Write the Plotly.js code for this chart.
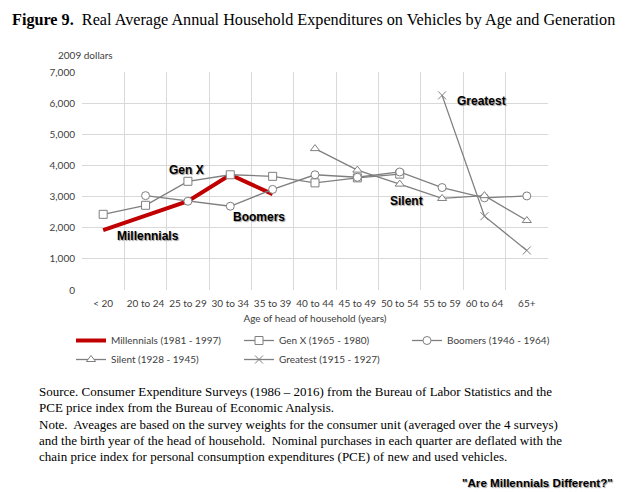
<!DOCTYPE html>
<html><head><meta charset="utf-8">
<script src="https://cdn.plot.ly/plotly-3.0.1.min.js"></script>
<style>html,body{margin:0;padding:0;background:#fff;}#chart{width:628px;height:492px;}</style>
</head><body><div id="chart"></div>
<script>
var ages = ['< 20','20 to 24','25 to 29','30 to 34','35 to 39','40 to 44','45 to 49','50 to 54','55 to 59','60 to 64','65+'];
var millennials = [1920, 2400, 2850, 3700, 3080, null, null, null, null, null, null];
var genX = [2430, 2720, 3490, 3700, 3650, 3440, 3600, 3720, null, null, null];
var boomers = [null, 3030, 2850, 2690, 3230, 3700, 3620, 3790, 3290, 2960, 3020];
var silent = [null, null, null, null, null, 4540, 3850, 3400, 2940, 3030, 2230];
var greatest = [null, null, null, null, null, null, null, null, 6250, 2370, 1270];

var grey = '#7f7f7f';
var tickFont = {family: 'Lato, "Open Sans", sans-serif', size: 10, color: '#404040'};
var lblFont = {family: '"Liberation Sans", Arial, sans-serif', size: 12, color: '#000', weight: 'bold', shadow: '1px 1px 1px #999'};

function greyTrace(name, y, sym, size) {
  return {x: ages, y: y, name: name, type: 'scatter', mode: 'lines+markers',
    line: {color: grey, width: 1.3},
    marker: {symbol: sym, size: size, color: sym.indexOf('x') === 0 ? grey : '#fff', line: {color: grey, width: 1}},
    connectgaps: false};
}

var traces = [
  {x: ages, y: millennials, name: 'Millennials (1981 - 1997)', type: 'scatter', mode: 'lines',
    line: {color: '#c00000', width: 4}},
  greyTrace('Gen X (1965 - 1980)', genX, 'square', 8),
  greyTrace('Boomers (1946 - 1964)', boomers, 'circle', 8),
  greyTrace('Silent (1928 - 1945)', silent, 'triangle-up', 8),
  greyTrace('Greatest (1915 - 1927)', greatest, 'x-thin', 8)
];

var ann = [
  {text: 'Gen X', x: 1.96, y: 3846},
  {text: 'Millennials', x: 1.06, y: 1740},
  {text: 'Boomers', x: 3.68, y: 2350},
  {text: 'Silent', x: 7.15, y: 2850},
  {text: 'Greatest', x: 8.92, y: 6070}
].map(function(a){ return {text: a.text, x: a.x, y: a.y, xref: 'x', yref: 'y', showarrow: false, font: lblFont}; });

var note = ['Source. Consumer Expenditure Surveys (1986 \u2013 2016) from the Bureau of Labor Statistics and the',
  'PCE price index from the Bureau of Economic Analysis.',
  'Note.&nbsp; Aveages are based on the survey weights for the consumer unit (averaged over the 4 surveys)',
  'and the birth year of the head of household.&nbsp; Nominal purchases in each quarter are deflated with the',
  'chain price index for personal consumption expenditures (PCE) of new and used vehicles.'];
var noteY = [391, 407.5, 424, 440.3, 456.3];

function px2x(p) { return (p - 82) / 466; }
function px2y(p) { return (290 - p) / 218; }

note.forEach(function(t, i) {
  ann.push({text: t, xref: 'paper', yref: 'paper', x: px2x(37), y: px2y(noteY[i]),
    xanchor: 'left', yanchor: 'middle', align: 'left', showarrow: false,
    font: {family: '"Liberation Serif", "Times New Roman", serif', size: 13, color: '#000'}});
});
ann.push({text: '"Are Millennials Different?"', xref: 'paper', yref: 'paper', x: px2x(615), y: px2y(482),
  xanchor: 'right', yanchor: 'middle', showarrow: false,
  font: {family: '"Liberation Sans", Arial, sans-serif', size: 11.6, color: '#000', weight: 'bold', shadow: '1px 1px 1px #999'}});
ann.push({text: '2009 dollars', xref: 'paper', yref: 'paper', x: px2x(56), y: px2y(55),
  xanchor: 'left', yanchor: 'middle', showarrow: false, font: tickFont});

var layout = {
  width: 628, height: 492,
  margin: {l: 82, r: 80, t: 72, b: 202},
  paper_bgcolor: '#fff', plot_bgcolor: '#fff',
  title: {text: '<b>Figure 9.</b>&nbsp; Real Average Annual Household Expenditures on Vehicles by Age and Generation',
    x: 12/628, xanchor: 'left', xref: 'container', y: 1 - 19/492, yanchor: 'middle', yref: 'container',
    font: {family: '"Liberation Serif", "Times New Roman", serif', size: 16.2, color: '#000'}},
  xaxis: {type: 'category', range: [-0.5, 10.5], tickson: 'boundaries', showgrid: true, gridcolor: '#d9d9d9',
    zeroline: false, showline: false, ticks: '', tickangle: 0, tickfont: tickFont, fixedrange: true,
    ticklabelstandoff: 6,
    title: {text: 'Age of head of household (years)', font: tickFont, standoff: 6}},
  yaxis: {range: [0, 7000], dtick: 1000, tickformat: ',', showgrid: true, gridcolor: '#d9d9d9',
    zeroline: false, showline: false, ticks: '', tickfont: tickFont, fixedrange: true,
    ticklabelstandoff: 6},
  showlegend: true,
  legend: {orientation: 'h', x: px2x(71), xanchor: 'left', y: px2y(326), yanchor: 'top',
    entrywidth: 123, entrywidthmode: 'pixels', font: tickFont, traceorder: 'normal', bgcolor: 'rgba(0,0,0,0)'},
  annotations: ann
};

Plotly.newPlot('chart', traces, layout, {displayModeBar: false, staticPlot: true});
</script></body></html>
